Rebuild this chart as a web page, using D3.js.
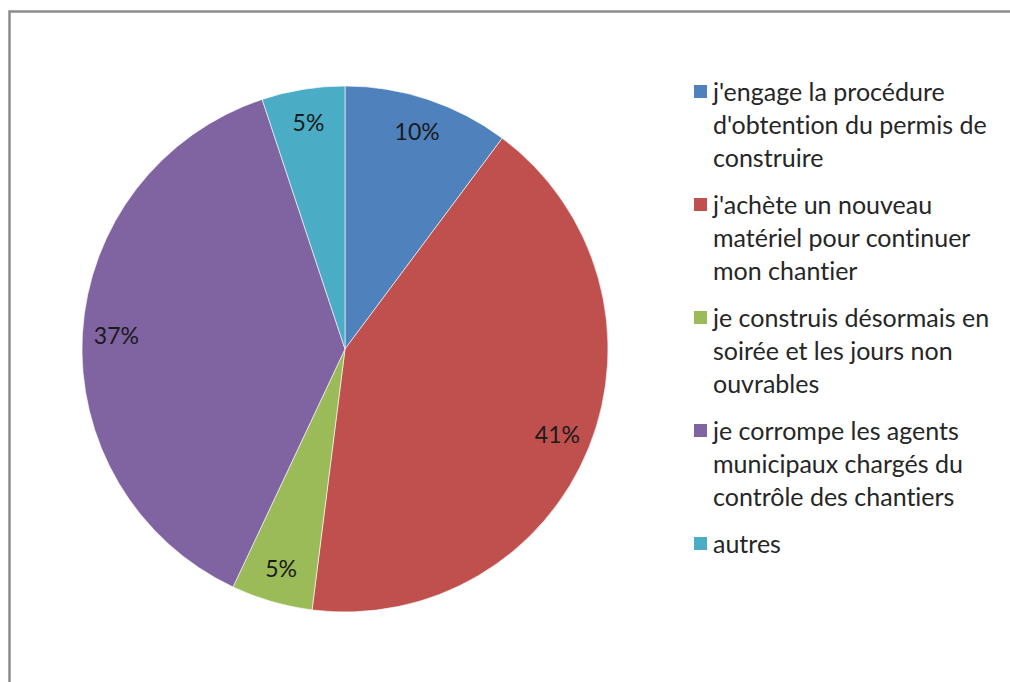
<!DOCTYPE html>
<html lang="fr">
<head>
<meta charset="UTF-8">
<title>Pie chart</title>
<script src="https://d3js.org/d3.v7.min.js"></script>
<style>
  body { margin: 0; background: #fff; }
  svg { display: block; }
  text { font-family: Lato, "Open Sans", sans-serif; font-variant-ligatures: none; }
</style>
</head>
<body>
<script>
  // data
  const categories = [
    "j'engage la procédure d'obtention du permis de construire",
    "j'achète un nouveau matériel pour continuer mon chantier",
    "je construis désormais en soirée et les jours non ouvrables",
    "je corrompe les agents municipaux chargés du contrôle des chantiers",
    "autres"
  ];
  const legendLines = [
    ["j'engage la procédure", "d'obtention du permis de", "construire"],
    ["j'achète un nouveau", "matériel pour continuer", "mon chantier"],
    ["je construis désormais en", "soirée et les jours non", "ouvrables"],
    ["je corrompe les agents", "municipaux chargés du", "contrôle des chantiers"],
    ["autres"]
  ];
  const values = [10.2, 41.8, 5.0, 37.9, 5.1];
  const pctLabels = ["10%", "41%", "5%", "37%", "5%"];
  const colors = ["#4F81BD", "#C0504D", "#9BBB59", "#8064A2", "#4BACC6"];

  const width = 1010, height = 682;
  const cx = 345, cy = 349, radius = 263, labelRadius = 229;

  const svg = d3.select("body").append("svg")
    .attr("width", width)
    .attr("height", height);

  // chart frame (only top and left edges are visible)
  svg.append("path")
    .attr("d", `M9.5,${height + 5}V11.5H${width + 5}`)
    .attr("fill", "none")
    .attr("stroke", "#8c8c8c")
    .attr("stroke-width", 2.5);

  const pie = d3.pie().sort(null).value(d => d);
  const arcs = pie(values);
  const arc = d3.arc().innerRadius(0).outerRadius(radius);
  const labelArc = d3.arc().innerRadius(labelRadius).outerRadius(labelRadius);

  const g = svg.append("g").attr("transform", `translate(${cx},${cy})`);

  g.selectAll("path.slice")
    .data(arcs)
    .enter()
    .append("path")
    .attr("class", "slice")
    .attr("d", arc)
    .attr("fill", (d, i) => colors[i])
    .attr("stroke", "#ffffff")
    .attr("stroke-width", 1)
    .attr("stroke-opacity", 0.6);

  g.selectAll("text.pct")
    .data(arcs)
    .enter()
    .append("text")
    .attr("class", "pct")
    .attr("transform", d => `translate(${labelArc.centroid(d)})`)
    .attr("text-anchor", "middle")
    .attr("dy", "0.36em")
    .attr("font-size", 23)
    .attr("fill", "#1a1a1a")
    .text((d, i) => pctLabels[i]);

  // legend
  const legendX = 694, legendTop = 92, lineH = 33, itemGap = 14;
  const legend = svg.append("g");
  let y = legendTop;
  legendLines.forEach((lines, i) => {
    const item = legend.append("g");
    item.append("rect")
      .attr("x", legendX)
      .attr("y", y - 7)
      .attr("width", 13)
      .attr("height", 13)
      .attr("fill", colors[i]);
    item.selectAll("text")
      .data(lines)
      .enter()
      .append("text")
      .attr("x", legendX + 19)
      .attr("y", (d, j) => y + j * lineH)
      .attr("dy", "0.36em")
      .attr("font-size", 25)
      .attr("fill", "#262626")
      .text(d => d);
    y += lines.length * lineH + itemGap;
  });
</script>
</body>
</html>
